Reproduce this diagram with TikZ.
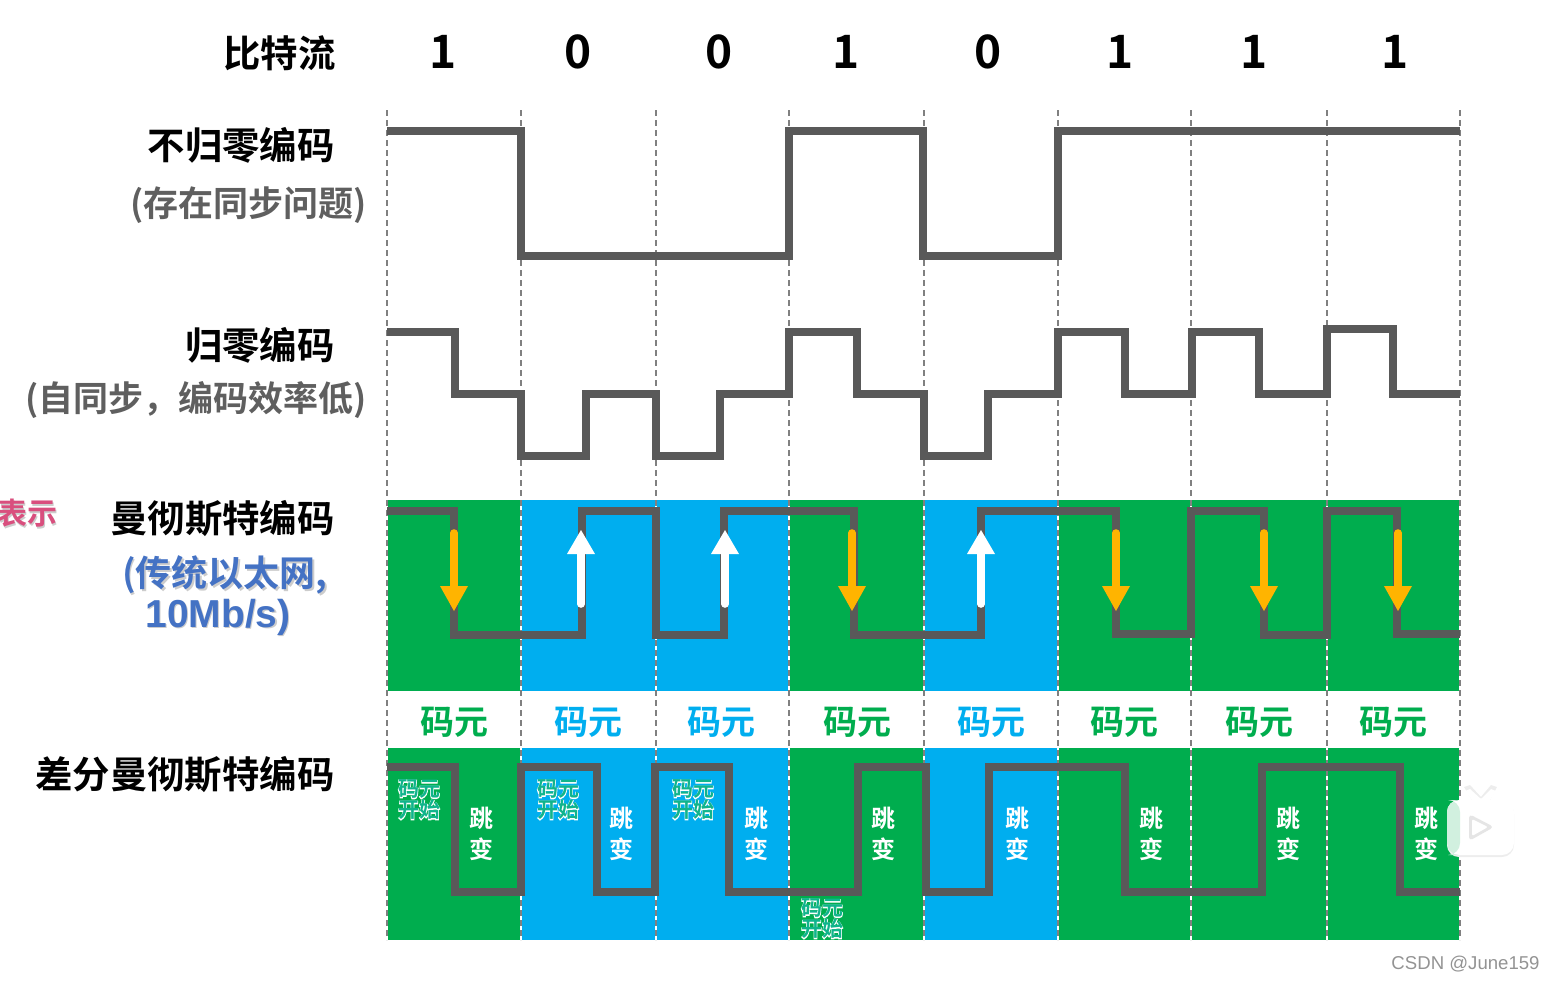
\documentclass[tikz,border=0pt]{standalone}
\usepackage{fontspec}
\setmainfont{Noto Sans CJK SC}[BoldFont={Noto Sans CJK SC Bold}]
\newfontfamily\latinfont{Liberation Sans}
\definecolor{cgreen}{HTML}{00AD4E}
\definecolor{cblue}{HTML}{00AEEF}
\definecolor{cwave}{HTML}{595959}
\definecolor{carrow}{HTML}{FFB400}
\definecolor{csub}{HTML}{5F5F5F}
\definecolor{cnote}{HTML}{4472C4}
\definecolor{cpink}{HTML}{D94F7E}
\definecolor{cteal}{HTML}{10B48C}
\newcommand{\halo}[1]{\rlap{\special{pdf:code q 1 1 1 RG 1 1 1 rg 0.6 w 2 Tr}#1\special{pdf:code 0 Tr Q}}#1}
\newcommand{\softshadow}[1]{\rlap{\kern0.6pt\raisebox{-0.8pt}{\textcolor{gray!40}{#1}}}#1}
\tikzset{
 x=0.5pt,y=-0.5pt,
 wave/.style={draw=cwave,line width=4.1pt,miter limit=10,line join=miter,line cap=butt},
 grid/.style={draw=gray,line width=0.6pt,dash pattern=on 3pt off 2pt},
 title/.style={font=\bfseries\fontsize{18.7}{20}\selectfont,anchor=east,inner sep=0pt,text=black},
 subtitle/.style={font=\bfseries\fontsize{17.5}{20}\selectfont,anchor=east,inner sep=0pt,text=csub},
 bit/.style={font=\bfseries\fontsize{23}{24}\selectfont,inner sep=0pt,text=black},
 unit/.style={font=\bfseries\fontsize{17}{20}\selectfont,inner sep=0pt},
 jump/.style={font=\bfseries\fontsize{12}{15.5}\selectfont,inner sep=0pt,text=white,align=center},
 start/.style={font=\bfseries\fontsize{10.5}{10.5}\selectfont,inner sep=0pt,text=cteal,align=center},
 note/.style={font=\bfseries\fontsize{18}{21}\selectfont,inner sep=0pt,text=cnote},
}
\begin{document}
\begin{tikzpicture}
\useasboundingbox (0,0) rectangle (1555,981);
% coloured bit cells
\foreach \a/\b/\c in {387/520/cgreen,521/655/cblue,656/788/cblue,790/923/cgreen,925/1057/cblue,1059/1191/cgreen,1192/1326/cgreen,1328/1460/cgreen}{
  \fill[\c] (\a,500) rectangle (\b,691);
  \fill[\c] (\a,748) rectangle (\b,940);
}
% grid lines
\foreach \x in {387,521,656,789,924,1058,1191,1327,1460}{
  \draw[white,line width=0.8pt] (\x,500) -- (\x,691) (\x,748) -- (\x,940);
  \draw[grid] (\x,110) -- (\x,940);
}
% waves
\draw[wave] (387,131) -- (521,131) -- (521,256) -- (789,256) -- (789,131) -- (923,131) -- (923,256) -- (1058,256) -- (1058,131) -- (1460,131);
\draw[wave] (387,332) -- (455,332) -- (455,394) -- (521,394) -- (521,456) -- (586,456) -- (586,394) -- (656,394) -- (656,456) -- (720,456) -- (720,394) -- (789,394) -- (789,332) -- (857,332) -- (857,394) -- (924,394) -- (924,456) -- (988,456) -- (988,394) -- (1058,394) -- (1058,332) -- (1125,332) -- (1125,394) -- (1192,394) -- (1192,332) -- (1259,332) -- (1259,394) -- (1327,394) -- (1327,329) -- (1393,329) -- (1393,394) -- (1460,394);
\draw[wave] (387,511) -- (454,511) -- (454,635) -- (582,635) -- (582,511) -- (656,511) -- (656,635) -- (724,635) -- (724,511) -- (854,511) -- (854,635) -- (981,635) -- (981,511) -- (1116,511) -- (1116,634) -- (1191,634) -- (1191,511) -- (1264,511) -- (1264,635) -- (1327,635) -- (1327,511) -- (1397,511) -- (1397,634) -- (1460,634);
\draw[wave] (387,767) -- (455,767) -- (455,892) -- (521,892) -- (521,767) -- (597,767) -- (597,892) -- (655,892) -- (655,767) -- (729,767) -- (729,892) -- (858,892) -- (858,767) -- (926,767) -- (926,892) -- (989,892) -- (989,767) -- (1125,767) -- (1125,892) -- (1262,892) -- (1262,767) -- (1400,767) -- (1400,892) -- (1460,892);
% transition arrows
\foreach \x in {454,852,1116,1264,1398}{
  \draw[carrow,line width=3.8pt,line cap=round] (\x,533) -- (\x,590);
  \fill[carrow] (\x-14,586) -- (\x+14,586) -- (\x,611) -- cycle;
}
\foreach \x in {581,725,981}{
  \draw[white,line width=3.8pt,line cap=round] (\x,604) -- (\x,550);
  \fill[white] (\x-14,554) -- (\x+14,554) -- (\x,530) -- cycle;
}
% labels
\node[title] (tbits) at (336,53) {比特流};
\foreach \x/\v [count=\i] in {443/1,578/0,719/0,846/1,988/0,1120/1,1254/1,1395/1}
  \node[bit] (bit\i) at (\x,52) {\v};
\node[title] (tnrz) at (335,145) {不归零编码};
\node[subtitle] (snrz) at (367,205) {(存在同步问题)};
\node[title] (trz) at (335,345) {归零编码};
\node[subtitle] (srz) at (367,400) {(自同步，编码效率低)};
\node[title] (tman) at (335,519) {曼彻斯特编码};
\node[note,anchor=east] (sman) at (328,576) {\softshadow{(传统以太网,}};
\node[note,font=\latinfont\bfseries\fontsize{19.5}{21}\selectfont] (sman2) at (218,618) {\softshadow{10Mb/s)}};
\node[title] (tdif) at (335,775) {差分曼彻斯特编码};
\node[font=\bfseries\fontsize{15}{16}\selectfont,text=cpink,anchor=east,inner sep=0pt] (tpink) at (58,514) {\softshadow{表示}};
\foreach \x/\c [count=\i] in {454/cgreen,588/cblue,721/cblue,857/cgreen,991/cblue,1124/cgreen,1259/cgreen,1393/cgreen}
  \node[unit,text=\c] (unit\i) at (\x,722) {码元};
\foreach \x [count=\i] in {481,621,756,883,1017,1151,1288,1426}
  \node[jump] (jump\i) at (\x,834) {跳\\变};
\foreach \x/\y [count=\i] in {419/800,558/800,693/800,822/919}
  \node[start] (start\i) at (\x,\y) {\halo{码元}\\\halo{开始}};
% video badge
\fill[gray!14,rounded corners=6pt] (1447,802) rectangle (1514,857);
\fill[gray!14] (1464,787) -- (1470,785) -- (1482,798) -- (1472,800) -- cycle;
\fill[gray!14] (1497,787) -- (1491,785) -- (1480,798) -- (1490,800) -- cycle;
\fill[white,rounded corners=6pt] (1447,800) rectangle (1514,855);
\fill[cgreen!18,rounded corners=6pt] (1447,800) -- (1460,800) -- (1460,855) -- (1447,855) -- cycle;
\fill[white] (1465,791) -- (1470,789) -- (1482,800) -- (1472,800) -- cycle;
\fill[white] (1496,791) -- (1491,789) -- (1480,800) -- (1490,800) -- cycle;
\fill[gray!20,rounded corners=2pt] (1469,814) -- (1469,841) -- (1494,827) -- cycle;
\fill[white,rounded corners=1pt] (1472,819) -- (1472,836) -- (1488,827) -- cycle;
\node[font=\latinfont\fontsize{9.3}{12}\selectfont,text=gray!85,anchor=east,inner sep=0pt] (mark) at (1540,964) {CSDN @June159};
\end{tikzpicture}
\end{document}
